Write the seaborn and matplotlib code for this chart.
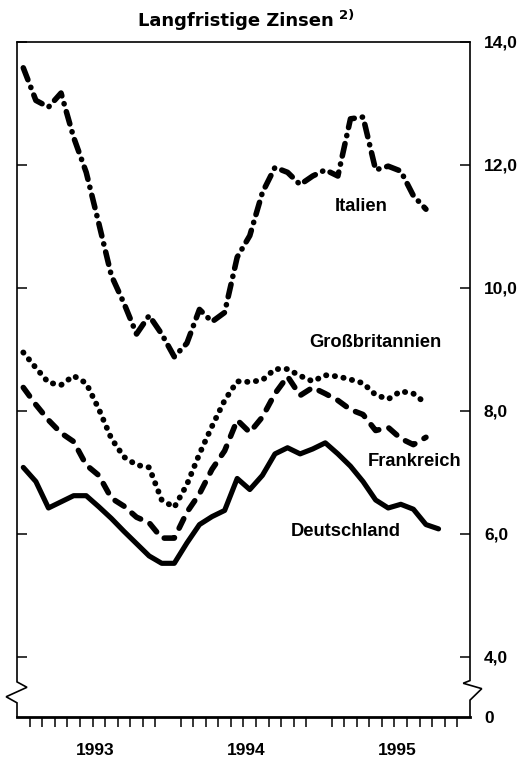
import numpy as np
import pandas as pd
import matplotlib
matplotlib.use("Agg")
import matplotlib.pyplot as plt
import matplotlib.transforms as mtransforms
import seaborn as sns

# ---- data (monthly, Jan 1993 ...) ----
deutschland = [7.08, 6.85, 6.42, 6.52, 6.62, 6.62, 6.44, 6.25, 6.04, 5.84, 5.64, 5.52,
               5.52, 5.85, 6.15, 6.28, 6.38, 6.90, 6.72, 6.95, 7.30, 7.40, 7.30, 7.38,
               7.48, 7.30, 7.10, 6.85, 6.55, 6.42, 6.48, 6.40, 6.15, 6.08]
frankreich = [8.38, 8.10, 7.85, 7.64, 7.50, 7.12, 6.95, 6.58, 6.45, 6.27, 6.18, 5.93,
              5.93, 6.35, 6.65, 7.05, 7.35, 7.85, 7.65, 7.90, 8.28, 8.56, 8.25, 8.38,
              8.28, 8.17, 8.02, 7.94, 7.68, 7.73, 7.55, 7.45, 7.57]
grossbritannien = [8.95, 8.70, 8.46, 8.42, 8.57, 8.45, 8.03, 7.55, 7.25, 7.12, 7.08, 6.55,
                   6.43, 6.80, 7.30, 7.75, 8.17, 8.48, 8.47, 8.50, 8.68, 8.68, 8.57, 8.48,
                   8.58, 8.56, 8.51, 8.45, 8.26, 8.19, 8.32, 8.28, 8.12]
italien = [13.58, 13.05, 12.94, 13.17, 12.45, 11.88, 11.05, 10.20, 9.75, 9.25, 9.55, 9.25,
           8.88, 9.10, 9.65, 9.45, 9.60, 10.50, 10.85, 11.55, 11.96, 11.88, 11.68, 11.82,
           11.92, 11.82, 12.75, 12.78, 11.92, 11.98, 11.90, 11.50, 11.28]

years = ["1993", "1994", "1995"]
ytick_values = [4, 6, 8, 10, 12, 14]
ytick_labels = ["4,0", "6,0", "8,0", "10,0", "12,0", "14,0"]
series_names = ["Italien", "Großbritannien", "Frankreich", "Deutschland"]

Y_BOTTOM = 3.02  # broken axis: shown as 0

def frame(vals):
    return pd.DataFrame({"monat": np.arange(len(vals)) + 0.5, "zins": vals})

sns.set_style("white")
plt.rcParams["font.family"] = ["Liberation Sans", "DejaVu Sans"]
plt.rcParams.update({"text.color": "black", "axes.edgecolor": "black",
                     "xtick.color": "black", "ytick.color": "black",
                     "axes.labelcolor": "black"})

fig = plt.figure(figsize=(5.26, 7.59), dpi=100)
W, H = 526, 759
ax = fig.add_axes([17 / W, 1 - 717 / H, (470 - 17) / W, (717 - 42) / H])

ax.set_xlim(0, 36)
ax.set_ylim(Y_BOTTOM, 14.0)

styles = {
    "Italien": dict(lw=4.0, linestyle=(0, (2.3, 1.45, 0.05, 1.45))),
    "Großbritannien": dict(lw=4.2, linestyle=(0, (0.05, 1.45))),
    "Frankreich": dict(lw=4.0, linestyle=(0, (1.9, 1.9))),
    "Deutschland": dict(lw=3.7, linestyle="-"),
}
data = {"Italien": italien, "Großbritannien": grossbritannien,
        "Frankreich": frankreich, "Deutschland": deutschland}

for name in series_names:
    df = frame(data[name])
    sns.lineplot(data=df, x="monat", y="zins", ax=ax, color="black",
                 dash_capstyle="round", solid_capstyle="round",
                 solid_joinstyle="round", dash_joinstyle="round",
                 **styles[name])

# series labels
label_pos = {"Italien": (27.35, 11.33), "Großbritannien": (28.46, 9.11),
             "Frankreich": (31.56, 7.17), "Deutschland": (26.15, 6.03)}
for name in series_names:
    x, y = label_pos[name]
    ax.text(x, y, name, ha="center", va="center", fontsize=13.2,
            fontweight="bold", color="black")

# axes styling
for s in ["left", "right"]:
    ax.spines[s].set_visible(False)
ax.spines["top"].set_linewidth(1.2)
ax.spines["top"].set_color("black")
ax.spines["bottom"].set_linewidth(2.0)
ax.spines["bottom"].set_color("black")

# spines with zig-zag break
lkw = dict(transform=ax.transAxes, color="black", lw=1.2, clip_on=False,
           solid_joinstyle="miter")
ax.plot([0, 0, 0.022, -0.024, 0, 0], [1, 0.052, 0.044, 0.030, 0.021, 0], **lkw)
ax.plot([1, 1, 0.985, 1.026, 1, 1], [1, 0.054, 0.050, 0.042, 0.025, 0], **lkw)

# y ticks
ax.set_yticks([Y_BOTTOM] + ytick_values)
ax.set_yticklabels(["0"] + ytick_labels)
ax.tick_params(axis="y", which="major", direction="in", length=7, width=1.1,
               left=True, right=True, labelleft=False, labelright=True,
               pad=10, labelsize=12.5, colors="black")
for t in ax.get_yticklabels():
    t.set_fontweight("bold")
ax.yaxis.get_major_ticks()[0].tick1line.set_visible(False)
ax.yaxis.get_major_ticks()[0].tick2line.set_visible(False)

# x ticks: months (minor), years (major, long)
ax.set_xticks([0, 12, 24, 36])
ax.set_xticks([m for m in range(36) if m % 12 != 0], minor=True)
ax.set_xticklabels([])
ax.tick_params(axis="x", which="major", direction="out", length=29, width=1.1,
               colors="black")
ax.tick_params(axis="x", which="minor", direction="out", length=7.5, width=1.1,
               bottom=True, colors="black")
trans = mtransforms.blended_transform_factory(ax.transData, ax.transAxes)
for i, yr in enumerate(years):
    ax.text(12 * i + 6.2, -0.049, yr, transform=trans, ha="center", va="center",
            fontsize=12.5, fontweight="bold", color="black")

ax.set_xlabel("")
ax.set_ylabel("")
ax.grid(False)

# title
fig.text(334 / W, 1 - 21 / H, "Langfristige Zinsen", ha="right", va="center",
         fontsize=13, fontweight="bold", family=["DejaVu Sans"], color="black")
fig.text(339 / W, 1 - 16 / H, "2)", ha="left", va="center",
         fontsize=9.5, fontweight="bold", family=["DejaVu Sans"], color="black")

fig.savefig("out.png", dpi=100)
